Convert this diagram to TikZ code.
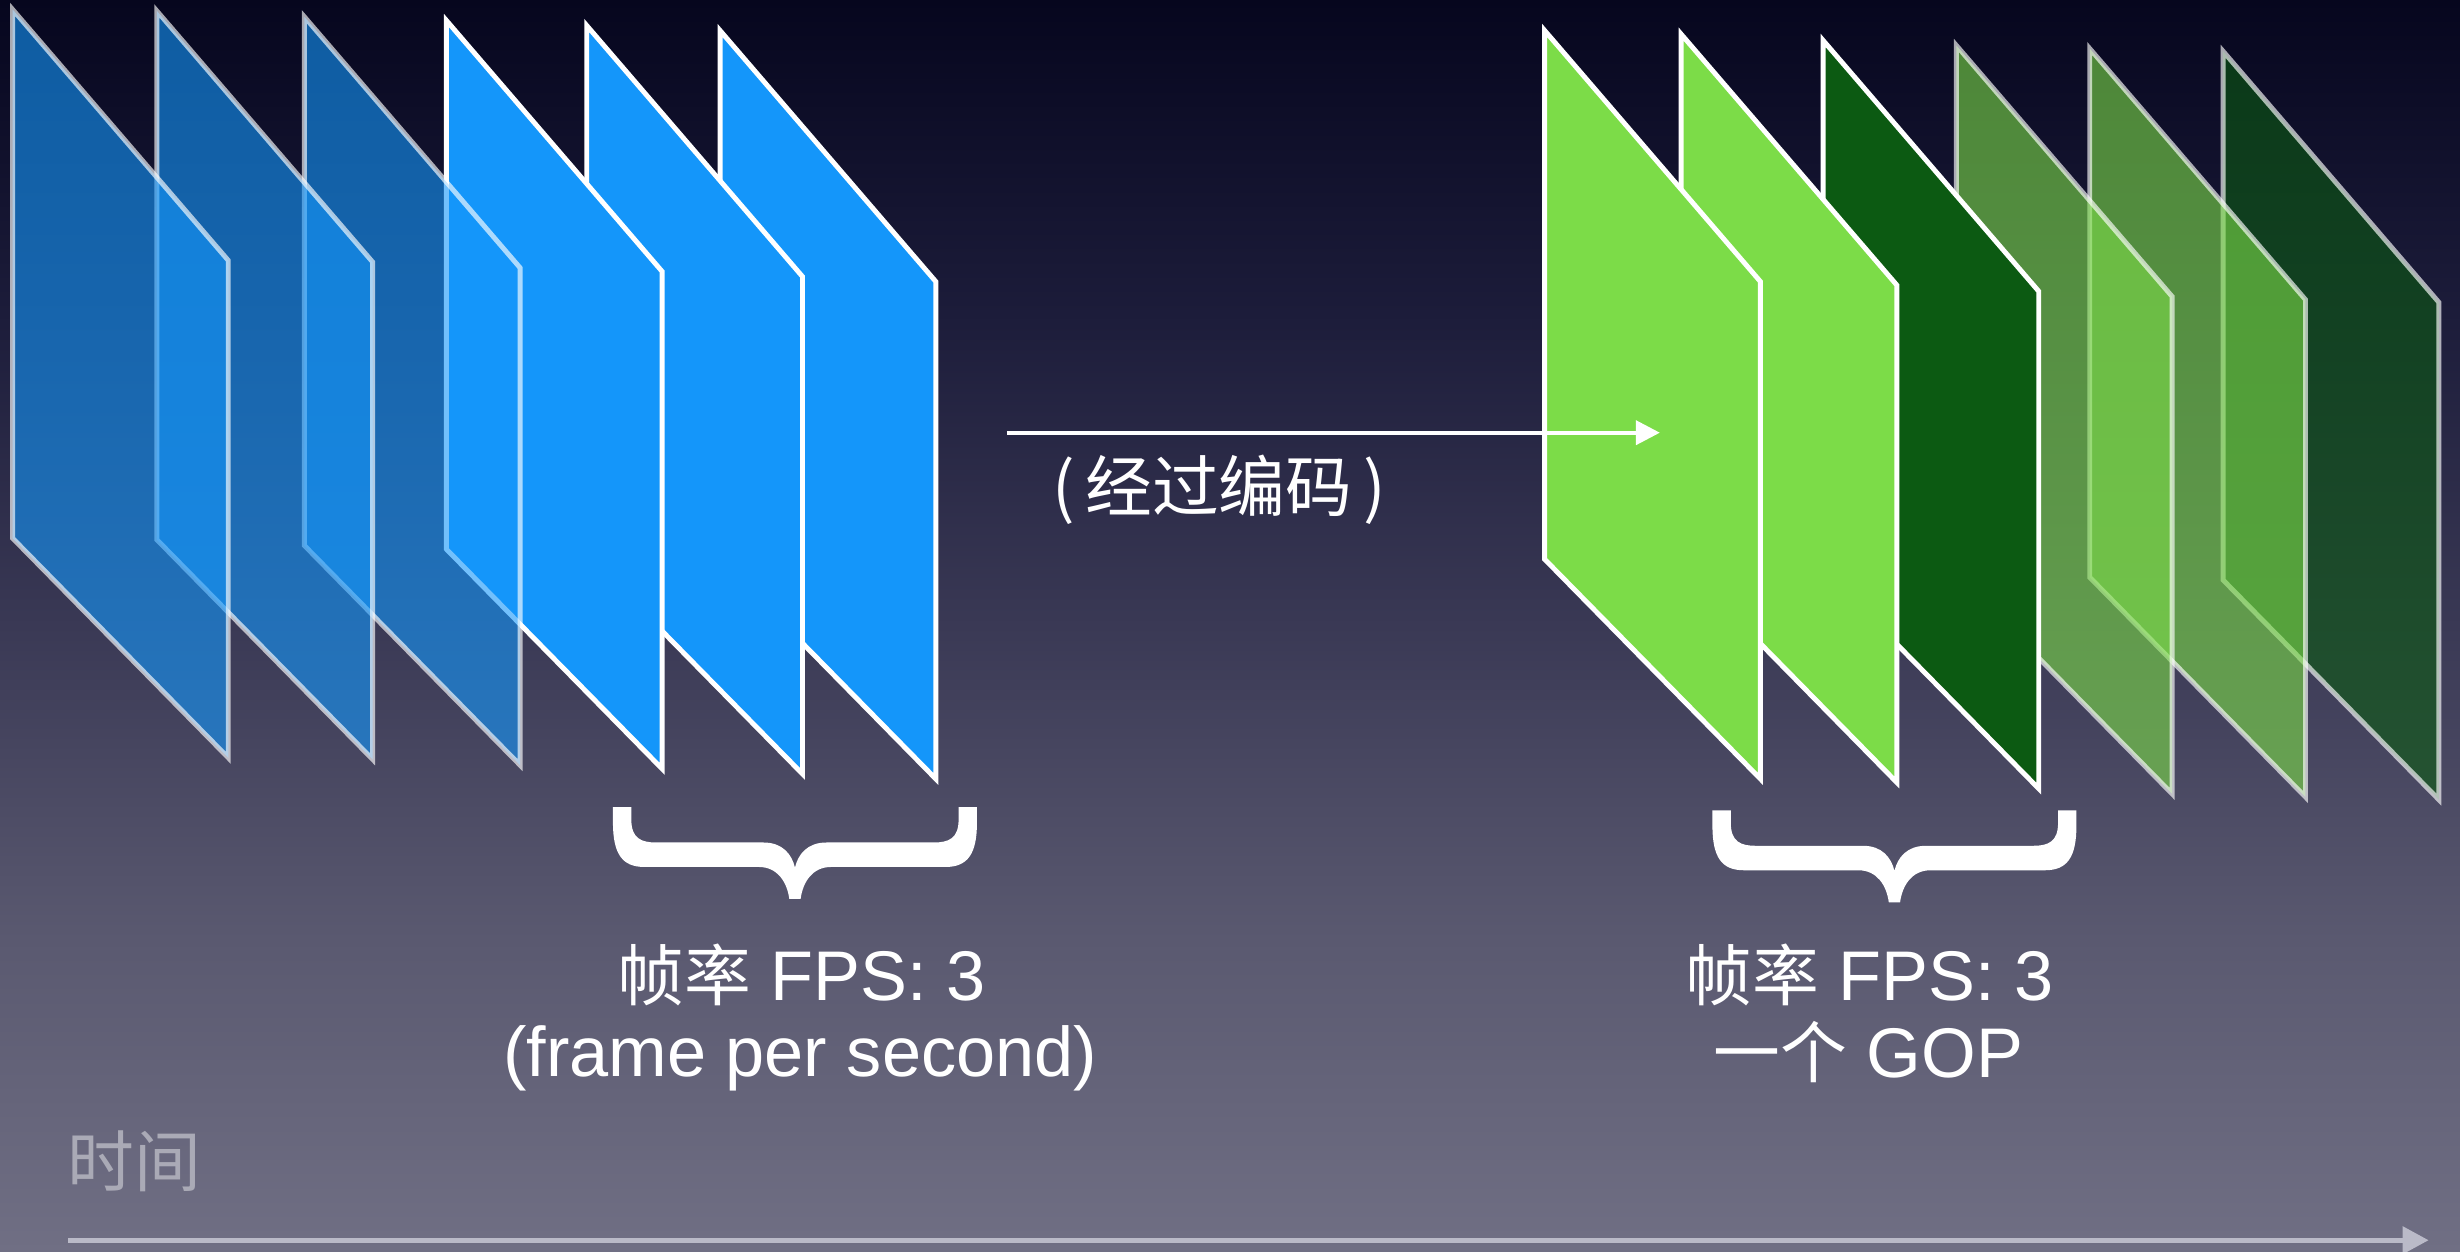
\documentclass[tikz,border=0pt]{standalone}
\usepackage{fontspec}
\setmainfont{Liberation Sans}
\newfontfamily\cjk{Noto Sans CJK SC}[Scale=0.95]
\usetikzlibrary{arrows.meta}
\definecolor{bgT}{RGB}{6,6,30}
\definecolor{bgA}{RGB}{28,28,58}
\definecolor{bgM}{RGB}{58,57,85}
\definecolor{bgC}{RGB}{90,89,112}
\definecolor{bgB}{RGB}{112,111,132}
\definecolor{fblue}{RGB}{20,150,250}
\definecolor{flight}{RGB}{124,220,72}
\definecolor{fdark}{RGB}{12,90,18}
\definecolor{axisgray}{RGB}{186,186,200}
\definecolor{labelgray}{RGB}{170,170,182}
\pgfdeclareverticalshading{bgshade}{100bp}{color(0bp)=(bgB); color(25bp)=(bgB); color(37.5bp)=(bgC); color(50bp)=(bgM); color(62.5bp)=(bgA); color(75bp)=(bgT); color(100bp)=(bgT)}
\tikzset{
  solidframe/.style={draw=white, line width=1.4pt, line join=miter},
  glassframe/.style={draw=white, draw opacity=0.65, fill opacity=0.6, line width=1.4pt, line join=miter},
  lbl/.style={text=white, font=\fontsize{20}{24}\selectfont, inner sep=0pt},
  timelbl/.style={text=labelgray, font=\fontsize{20}{24}\selectfont, inner sep=0pt},
  bracefill/.style={fill=white},
  encarrow/.style={draw=white, line width=1.1pt, -{Triangle[length=6.8pt,width=6.8pt]}},
  timearrow/.style={draw=axisgray, line width=1.4pt, -{Triangle[length=7.4pt,width=7.6pt]}}
}
\newcommand\vframe[3]{\path[#3] (#1,#2) -- ++(137.5,160) -- ++(0,317) -- ++(-137.5,-140) -- cycle;}
\newcommand\hbrace[2]{%
  \path[bracefill,shift={(#1,#2)}]
  (-116,0) -- (-116,10) .. controls (-116,30) and (-110,38.2) .. (-96,38.2)
  -- (-23,38.2) .. controls (-11,38.2) and (-5,48) .. (-3.6,58.6)
  -- (3.6,58.6) .. controls (5,48) and (11,38.2) .. (23,38.2)
  -- (96,38.2) .. controls (110,38.2) and (116,30) .. (116,10)
  -- (116,0) -- (104.3,0) -- (104.3,8) .. controls (104.3,20) and (98,22.6) .. (88.4,22.6)
  -- (20,22.6) .. controls (8,22.6) and (2,30) .. (0,38.6)
  .. controls (-2,30) and (-8,22.6) .. (-20,22.6)
  -- (-88.4,22.6) .. controls (-98,22.6) and (-104.3,20) .. (-104.3,8)
  -- (-104.3,0) -- cycle;}
\begin{document}
\begin{tikzpicture}[x=0.015689cm,y=-0.015689cm]
\useasboundingbox (0,0) rectangle (1568,798);
\fill[shading=bgshade] (0,0) rectangle (1568,798);
% left frames (back to front)
\vframe{459}{19.5}{solidframe,fill=fblue}
\vframe{374}{16.3}{solidframe,fill=fblue}
\vframe{284.5}{13}{solidframe,fill=fblue}
\vframe{194}{10.7}{glassframe,fill=fblue}
\vframe{100}{7}{glassframe,fill=fblue}
\vframe{8}{6}{glassframe,fill=fblue}
% right frames (back to front)
\vframe{1417}{32.7}{glassframe,fill=fdark}
\vframe{1332}{31}{glassframe,fill=flight}
\vframe{1247}{29}{glassframe,fill=flight}
\vframe{1162}{25.7}{solidframe,fill=fdark}
\vframe{1071.5}{21.7}{solidframe,fill=flight}
\vframe{984.5}{19.4}{solidframe,fill=flight}
% encode arrow
\coordinate (encS) at (641.8,275.8);
\coordinate (encE) at (1058,275.8);
\draw[encarrow] (encS) -- (encE);
\node[lbl] (enc) at (777,312) {\cjk (\kern3pt 经过编码\kern3pt)};
% braces
\hbrace{506.7}{514.4}
\hbrace{1207.5}{516.5}
% labels
\node[lbl, anchor=base] (l1) at (511,637.5) {{\cjk 帧率} FPS: 3};
\node[lbl, anchor=base] (l2) at (510,686) {(frame per second)};
\node[lbl, anchor=base] (r1) at (1191.5,637.5) {{\cjk 帧率} FPS: 3};
\node[lbl, anchor=base] (r2) at (1191,687) {{\cjk 一个} GOP};
% time axis
\node[timelbl] (time) at (85.5,740) {\cjk 时间};
\coordinate (tS) at (43.5,790.5);
\coordinate (tE) at (1548,790.5);
\draw[timearrow] (tS) -- (tE);
\end{tikzpicture}
\end{document}
